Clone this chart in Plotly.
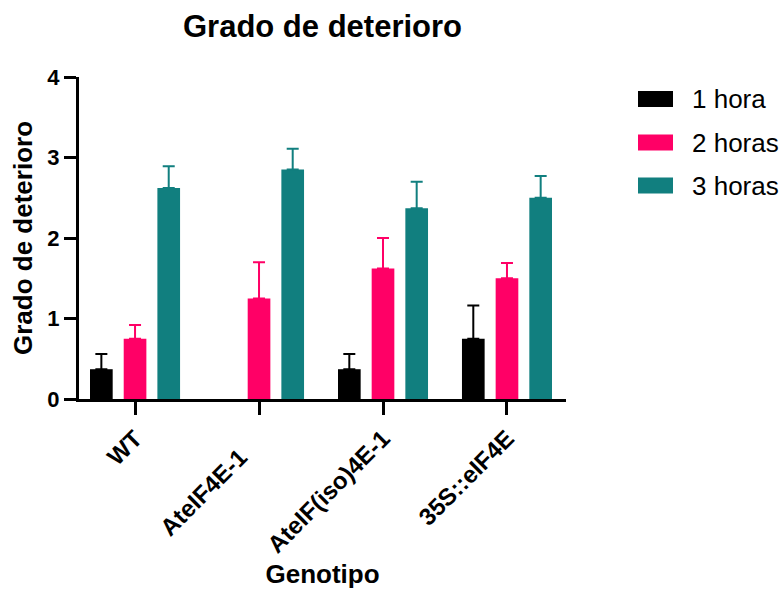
import numpy as np
import plotly.graph_objects as go

# Genotypes on the x axis
genotypes = ["WT", "AteIF4E-1", "AteIF(iso)4E-1", "35S::eIF4E"]

# Mean deterioration grade per time point (one value per genotype)
hora_1 = [0.37, 0.0, 0.37, 0.75]
horas_2 = [0.75, 1.25, 1.62, 1.50]
horas_3 = [2.62, 2.85, 2.37, 2.50]

# Upper error (SEM) per time point
err_1 = [0.19, 0.0, 0.19, 0.41]
err_2 = [0.17, 0.45, 0.38, 0.19]
err_3 = [0.27, 0.26, 0.33, 0.27]

series_names = ["1 hora", "2 horas", "3 horas"]
series_colors = ["#000000", "#FF0066", "#117F7F"]

y_ticks = [0, 1, 2, 3, 4]

# tick text; the second label carries trailing padding
tick_pad = {"AteIF4E-1": "\u00a0" * 4}
tick_text = [g + tick_pad.get(g, "") for g in genotypes]

FONT = "Liberation Sans, Arial, sans-serif"
W, H = 783, 589
ML, MR, MT, MB = 79, 217, 77, 190

fig = go.Figure()
for name, vals, errs, col in zip(series_names,
                                 [hora_1, horas_2, horas_3],
                                 [err_1, err_2, err_3],
                                 series_colors):
    # a zero mean with zero error has nothing to draw (no bar, no cap)
    shown = [v if (v > 0 or e > 0) else None for v, e in zip(vals, errs)]
    fig.add_trace(go.Bar(
        x=genotypes, y=shown, name=name,
        marker=dict(color=col, line=dict(width=0)),
        error_y=dict(type="data", symmetric=False, array=errs,
                     arrayminus=[0] * len(errs),
                     color=col, thickness=2, width=6),
        showlegend=False,
    ))

# hand-drawn legend to the right of the plot area
pw, ph = W - ML - MR, H - MT - MB


def px_x(v):
    return (v - ML) / pw


def px_y(v):
    return (H - MB - v) / ph


shapes = []
annotations = []
legend_rows = [99, 142.5, 185.5]
for name, col, yc in zip(series_names, series_colors, legend_rows):
    shapes.append(dict(type="rect", xref="paper", yref="paper",
                       x0=px_x(638), x1=px_x(673),
                       y0=px_y(yc + 8), y1=px_y(yc - 8),
                       fillcolor=col, line=dict(width=0)))
    annotations.append(dict(text=name, xref="paper", yref="paper",
                            x=px_x(690), y=px_y(yc), xanchor="left",
                            yanchor="middle", showarrow=False,
                            font=dict(family=FONT, size=26, color="#000")))

fig.update_layout(
    width=W, height=H,
    margin=dict(l=ML, r=MR, t=MT, b=MB, autoexpand=False),
    paper_bgcolor="white", plot_bgcolor="white",
    barmode="group", bargap=0.185, bargroupgap=0.327,
    title=dict(text="Grado de deterioro", x=(ML + pw / 2) / W, xanchor="center",
               y=1 - 26 / H, yanchor="middle", yref="container",
               font=dict(family=FONT, size=31, color="#000", weight="bold")),
    font=dict(family=FONT, color="#000"),
    shapes=shapes, annotations=annotations,
)

fig.update_xaxes(
    range=[-0.452, 3.476],
    tickmode="array", tickvals=genotypes, ticktext=tick_text,
    tickangle=-45,
    tickfont=dict(family=FONT, size=24, color="#000", weight="bold"),
    ticks="outside", ticklen=13, tickwidth=3, tickcolor="#000",
    showline=True, linewidth=3, linecolor="#000",
    showgrid=False, zeroline=False,
    title=dict(text="Genotipo", standoff=9,
               font=dict(family=FONT, size=26, color="#000", weight="bold")),
)
fig.update_yaxes(
    range=[0, 4], tickmode="array", tickvals=y_ticks,
    tickfont=dict(family=FONT, size=22, color="#000", weight="bold"),
    ticks="outside", ticklen=12, tickwidth=3, tickcolor="#000",
    showline=True, linewidth=3, linecolor="#000",
    showgrid=False, zeroline=False,
    title=dict(text="Grado de deterioro", standoff=8,
               font=dict(family=FONT, size=26, color="#000", weight="bold")),
)

fig.write_html("out.html")
